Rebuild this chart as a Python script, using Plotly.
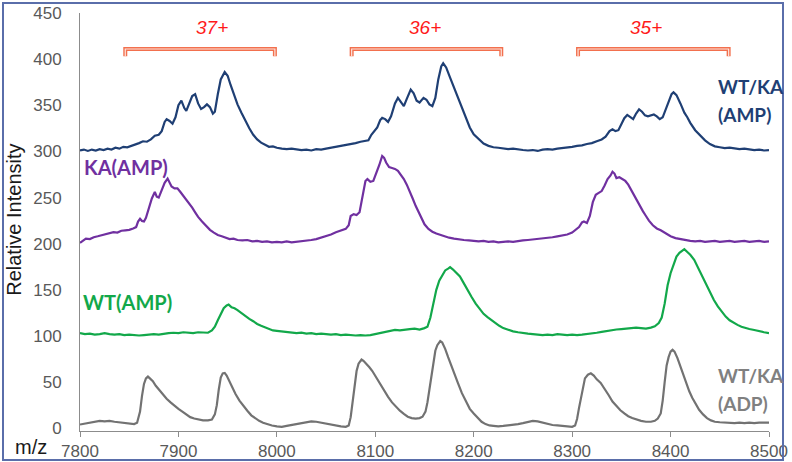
import plotly.graph_objects as go

# ---------------- data ----------------
wtka_amp_mz = [7800, 7804, 7808, 7812, 7816, 7820, 7824, 7828, 7832, 7836, 7840, 7844, 7848, 7852, 7856, 7860, 7864, 7868, 7872, 7876, 7880, 7883, 7886, 7888, 7891, 7894, 7897, 7900, 7903, 7906, 7908, 7911, 7914, 7917, 7920, 7923, 7926, 7929, 7932, 7935, 7937, 7940, 7943, 7947, 7950, 7953, 7956, 7960, 7964, 7968, 7972, 7976, 7980, 7984, 7988, 7992, 7996, 8000, 8005, 8010, 8015, 8020, 8025, 8030, 8035, 8040, 8045, 8050, 8055, 8060, 8065, 8070, 8075, 8080, 8085, 8090, 8093, 8096, 8099, 8102, 8105, 8107, 8110, 8113, 8116, 8120, 8123, 8126, 8129, 8132, 8136, 8139, 8142, 8145, 8149, 8152, 8155, 8158, 8161, 8164, 8167, 8169, 8172, 8176, 8180, 8184, 8188, 8192, 8196, 8200, 8205, 8210, 8215, 8220, 8225, 8230, 8235, 8240, 8245, 8250, 8255, 8260, 8265, 8270, 8275, 8280, 8285, 8290, 8295, 8300, 8305, 8310, 8315, 8320, 8325, 8330, 8334, 8338, 8341, 8344, 8347, 8350, 8353, 8356, 8359, 8362, 8365, 8368, 8371, 8374, 8377, 8380, 8383, 8386, 8389, 8392, 8395, 8398, 8401, 8403, 8406, 8410, 8414, 8417, 8420, 8425, 8430, 8435, 8440, 8445, 8450, 8455, 8460, 8465, 8470, 8475, 8480, 8485, 8490, 8495, 8500]
wtka_amp_int = [301, 302, 300.5, 302, 301, 302.5, 301.5, 303, 302, 304, 303, 305, 304.5, 306, 307, 309, 311, 310.5, 313, 317, 318, 322, 332, 335, 333, 330, 337, 350, 355, 347, 344, 352, 360, 362, 352, 346, 348, 351, 348, 341, 343, 362, 378, 386, 382, 372, 362, 351, 342, 333, 325, 318, 313, 309.5, 307, 305, 305.5, 304, 303, 302.5, 303, 302, 301.5, 302, 301, 302.5, 302, 303, 304, 304.5, 306, 307, 307.5, 309, 310.5, 311, 312, 318, 322, 326, 334, 336.5, 335, 332, 338, 352, 358, 354, 349, 357, 367, 363, 355, 353, 358, 356, 351, 349, 358, 378, 392, 395.5, 391, 380, 369, 357, 346, 335, 326, 318.5, 313, 308.5, 306, 304.5, 304, 303, 302.5, 303, 302, 301.5, 301, 301.5, 300.5, 302, 302.5, 302, 303, 303.5, 304, 305, 306, 306.5, 308, 309, 311, 313, 316, 322, 324, 322, 323, 329, 336, 339.5, 337, 335, 341, 345.5, 343, 339, 338, 339, 340, 338, 335, 337, 345, 355, 362, 364, 361, 352, 342, 337, 331, 323, 317, 312, 308, 305.5, 304.5, 303.5, 304, 303, 302.5, 303, 302, 301.5, 302, 301, 301.5]

ka_amp_mz = [7800, 7803, 7806, 7810, 7814, 7818, 7822, 7826, 7830, 7834, 7838, 7842, 7846, 7850, 7854, 7857, 7859, 7861, 7863, 7865, 7867, 7870, 7873, 7876, 7878, 7880, 7883, 7886, 7889, 7891, 7893, 7896, 7899, 7902, 7905, 7908, 7911, 7914, 7917, 7920, 7924, 7928, 7932, 7936, 7940, 7944, 7948, 7952, 7956, 7960, 7965, 7970, 7975, 7980, 7985, 7990, 7995, 8000, 8005, 8010, 8015, 8020, 8025, 8030, 8035, 8040, 8045, 8050, 8055, 8060, 8065, 8070, 8073, 8075, 8078, 8081, 8084, 8087, 8090, 8092, 8095, 8098, 8101, 8104, 8107, 8109, 8111, 8114, 8117, 8120, 8123, 8126, 8129, 8132, 8135, 8138, 8141, 8144, 8147, 8150, 8154, 8158, 8162, 8166, 8170, 8175, 8180, 8185, 8190, 8195, 8200, 8205, 8210, 8215, 8220, 8225, 8230, 8235, 8240, 8245, 8250, 8255, 8260, 8265, 8270, 8275, 8280, 8285, 8290, 8295, 8300, 8304, 8307, 8310, 8312, 8315, 8318, 8321, 8324, 8327, 8330, 8333, 8336, 8339, 8341, 8343, 8345, 8348, 8351, 8354, 8357, 8360, 8363, 8366, 8369, 8372, 8375, 8378, 8382, 8386, 8390, 8395, 8400, 8405, 8410, 8415, 8420, 8425, 8430, 8435, 8440, 8445, 8450, 8455, 8460, 8465, 8470, 8475, 8480, 8485, 8490, 8495, 8500]
ka_amp_int = [201, 203, 205.5, 205, 207, 208, 209, 210.5, 211, 212.5, 212, 214, 214.5, 215, 216.5, 218, 224, 227, 224.5, 224, 228, 240, 249, 256, 251, 250, 258, 266, 270.5, 267, 262, 260, 260, 256, 252, 248, 243, 239, 234, 229, 224, 219, 215, 212, 209.5, 208, 206.5, 205, 205.5, 204, 203.5, 204, 202.5, 203, 202, 202.5, 201.5, 202, 201.5, 202.5, 201.5, 202, 202.5, 203, 204, 205, 206.5, 208, 210, 212.5, 214, 216, 220, 230, 232, 231, 234, 250, 268, 270, 267, 268, 276, 285, 295, 293, 288, 283, 282, 281, 279, 275, 270, 264, 257, 249, 241, 234, 227, 221, 216, 213, 211, 209.5, 208, 206.5, 205.5, 204.5, 204, 203.5, 203, 202.5, 203, 202, 202.5, 201.5, 202, 202.5, 202, 203, 203.5, 204, 204.5, 205, 205.5, 206.5, 207, 208, 209, 210, 212, 215, 218, 223, 224, 222.5, 230, 245, 253, 255, 257, 263, 270, 274, 278, 276, 271, 272, 270, 268, 264, 258, 252, 246, 240, 235, 230, 225, 220, 216.5, 214.5, 211, 208, 206, 205, 203.5, 203, 202.5, 203, 202, 202.5, 203, 202, 202.5, 203, 202, 202.5, 203, 202, 202.5, 203, 202, 202.5]

wt_amp_mz = [7800, 7805, 7810, 7815, 7820, 7825, 7830, 7835, 7840, 7845, 7850, 7855, 7860, 7865, 7870, 7875, 7880, 7885, 7890, 7895, 7900, 7905, 7910, 7915, 7920, 7925, 7930, 7934, 7937, 7940, 7943, 7946, 7949, 7951, 7954, 7957, 7960, 7964, 7968, 7972, 7976, 7980, 7984, 7988, 7992, 7996, 8000, 8005, 8010, 8015, 8020, 8025, 8030, 8035, 8040, 8045, 8050, 8055, 8060, 8065, 8070, 8075, 8080, 8085, 8090, 8095, 8100, 8105, 8110, 8115, 8120, 8125, 8130, 8135, 8140, 8145, 8150, 8153, 8156, 8159, 8162, 8165, 8168, 8171, 8174, 8176, 8179, 8182, 8186, 8190, 8194, 8198, 8202, 8206, 8210, 8214, 8218, 8222, 8226, 8230, 8235, 8240, 8245, 8250, 8255, 8260, 8265, 8270, 8275, 8280, 8285, 8290, 8295, 8300, 8305, 8310, 8315, 8320, 8325, 8330, 8335, 8340, 8345, 8350, 8355, 8360, 8365, 8370, 8375, 8380, 8384, 8388, 8391, 8394, 8397, 8400, 8403, 8406, 8409, 8412, 8414, 8417, 8420, 8424, 8428, 8432, 8436, 8440, 8444, 8448, 8452, 8456, 8460, 8464, 8468, 8472, 8476, 8480, 8485, 8490, 8495, 8500]
wt_amp_int = [103, 102, 102.5, 101.5, 102, 103, 102, 101.5, 102, 101, 101.5, 101, 100.5, 101, 101.5, 102, 101.5, 102.5, 103, 103.5, 103, 104, 103.5, 103, 104, 103.5, 103.5, 106, 110, 117, 124, 130, 133, 134, 131, 130, 128, 125, 121, 118.5, 116, 113, 111, 109.5, 107.5, 106, 105.5, 105, 104.5, 103.5, 103, 103.5, 102.5, 103, 102, 102.5, 102, 101.5, 102, 101, 101.5, 101, 100.5, 101, 100.5, 101, 102, 103, 104, 105, 106.5, 106, 107, 107.5, 108, 107, 108.5, 110, 120, 135, 150, 160, 166, 171, 173, 174.5, 172, 169, 164.5, 157, 149, 142, 135, 129, 124, 120.5, 117, 114, 111, 108.5, 106.5, 105, 104, 103, 102.5, 102, 101.5, 101, 101.5, 101, 102, 101.5, 101, 101.5, 101, 101.5, 102, 102.5, 103.5, 104.5, 105.5, 106, 107, 107.5, 108, 108.5, 109, 108.5, 108, 109, 110.5, 114, 120, 135, 155, 168, 178, 186, 190, 193, 194, 191, 188, 182.5, 174, 165, 156, 147, 139, 132, 126.5, 121, 117, 114, 112, 110, 108.5, 107.5, 106.5, 105, 104, 103]

wtka_adp_mz = [7800, 7805, 7810, 7815, 7820, 7825, 7830, 7835, 7840, 7845, 7850, 7855, 7858, 7861, 7863, 7865, 7867, 7869, 7871, 7874, 7877, 7880, 7884, 7888, 7892, 7896, 7900, 7904, 7908, 7912, 7916, 7920, 7925, 7930, 7934, 7937, 7939, 7941, 7943, 7945, 7947, 7949, 7952, 7955, 7958, 7962, 7966, 7970, 7974, 7978, 7982, 7986, 7990, 7995, 8000, 8005, 8010, 8015, 8020, 8025, 8030, 8035, 8040, 8045, 8050, 8055, 8060, 8065, 8070, 8073, 8075, 8077, 8079, 8081, 8083, 8086, 8088, 8091, 8094, 8097, 8101, 8105, 8109, 8113, 8117, 8121, 8125, 8129, 8133, 8137, 8141, 8145, 8148, 8151, 8153, 8155, 8157, 8159, 8161, 8163, 8166, 8168, 8171, 8174, 8177, 8180, 8184, 8188, 8192, 8196, 8200, 8204, 8208, 8212, 8216, 8220, 8225, 8230, 8235, 8240, 8245, 8250, 8255, 8260, 8265, 8270, 8275, 8280, 8285, 8290, 8295, 8300, 8303, 8305, 8307, 8309, 8311, 8313, 8316, 8319, 8322, 8325, 8329, 8333, 8337, 8341, 8345, 8349, 8353, 8357, 8361, 8365, 8370, 8375, 8380, 8384, 8387, 8390, 8392, 8394, 8396, 8398, 8400, 8402, 8404, 8407, 8410, 8413, 8416, 8419, 8422, 8425, 8429, 8433, 8437, 8441, 8445, 8450, 8455, 8460, 8465, 8470, 8475, 8480, 8485, 8490, 8495, 8500]
wtka_adp_int = [4, 5, 6.5, 7.5, 8, 7.5, 8, 7, 6.5, 5.5, 5, 4.5, 6, 18, 35, 48, 54, 56, 54, 51, 46, 42, 37, 32, 28, 24, 21, 18, 14.5, 12, 10.5, 9.5, 8.5, 8.5, 9.5, 15, 25, 42, 55, 59.5, 60, 57, 50, 43, 37, 30, 24, 19, 14, 10.5, 8, 6, 4.5, 3, 2, 1.5, 2.5, 3.5, 5, 6, 7, 7.5, 7, 6, 4.5, 3.5, 2.5, 2, 1.5, 3, 12, 28, 48, 62, 70, 74.5, 73, 70, 66, 62, 55, 47, 40, 34, 28, 23, 19, 15.5, 12.5, 11, 10.5, 11, 12.5, 18, 28, 42, 58, 72, 84, 90, 94.5, 93, 86, 77, 68, 59, 49, 38, 29, 21, 16, 11, 7, 4.5, 3, 2.5, 2, 2.5, 3, 3.5, 4.5, 5.5, 7, 8, 7.5, 6, 5, 3.5, 3, 2.5, 2, 1.5, 3, 10, 22, 34, 46, 54, 58, 59.5, 57, 53, 49, 43, 36, 29, 24, 19.5, 16, 13, 11, 9.5, 8, 7, 7, 8, 10.5, 16, 30, 50, 68, 77, 83, 85, 83, 76, 67, 57, 48, 40, 33, 27, 20, 15, 11, 8.5, 7, 6.5, 6, 6, 5.5, 6, 5.5, 6, 5.5, 6, 6, 6]

x_ticks = [7800, 7900, 8000, 8100, 8200, 8300, 8400, 8500]
y_ticks = [0, 50, 100, 150, 200, 250, 300, 350, 400, 450]

charge_labels = ["37+", "36+", "35+"]
charge_centers = [7934, 8150, 8375]
bracket_starts = [7846, 8076, 8306]
bracket_ends = [7998, 8228, 8459]

series_names = ["WT/KA (AMP)", "KA(AMP)", "WT(AMP)", "WT/KA (ADP)"]
series_colors = ["#1f3f74", "#7030a0", "#12a84a", "#727272"]

# ---------------- figure ----------------
fig = go.Figure()
for mz, inten, name, col in [
    (wtka_adp_mz, wtka_adp_int, series_names[3], series_colors[3]),
    (wt_amp_mz, wt_amp_int, series_names[2], series_colors[2]),
    (ka_amp_mz, ka_amp_int, series_names[1], series_colors[1]),
    (wtka_amp_mz, wtka_amp_int, series_names[0], series_colors[0]),
]:
    fig.add_trace(go.Scatter(x=mz, y=inten, mode="lines", name=name,
                             line=dict(color=col, width=2.2), showlegend=False))

tick_font = dict(family="Liberation Sans, Arial, sans-serif", size=17, color="#595959")

fig.update_layout(
    width=792, height=462,
    margin=dict(l=80, r=23, t=13, b=31, autoexpand=False),
    paper_bgcolor="white", plot_bgcolor="white",
    showlegend=False,
    xaxis=dict(range=[7800, 8500], tickvals=x_ticks, ticktext=[str(v) for v in x_ticks],
               showgrid=False, zeroline=False, showline=True, linecolor="#8c8c8c", linewidth=1,
               ticks="outside", ticklen=5, tickcolor="#8c8c8c", tickfont=tick_font,
               automargin=False),
    yaxis=dict(range=[-3, 450], tickvals=y_ticks, ticktext=[str(v) for v in y_ticks],
               showgrid=False, zeroline=False, showline=True, linecolor="#8c8c8c", linewidth=1,
               ticks="", ticklabelstandoff=14, tickfont=tick_font, automargin=False),
)

# axis titles
fig.add_annotation(text="Relative Intensity", xref="paper", yref="paper",
                   x=-0.096, y=0.505, textangle=-90, showarrow=False,
                   xanchor="center", yanchor="middle",
                   font=dict(family="Liberation Sans, Arial, sans-serif", size=20, color="#1a1a1a"))
fig.add_annotation(text="m/z", xref="paper", yref="paper",
                   x=-0.0704, y=-0.039, showarrow=False, xanchor="center", yanchor="middle",
                   font=dict(family="Liberation Sans, Arial, sans-serif", size=20, color="#1a1a1a"))

# charge-state brackets
for lab, cx, x0, x1 in zip(charge_labels, charge_centers, bracket_starts, bracket_ends):
    path = f"M {x0},403 L {x0},411 L {x1},411 L {x1},403"
    fig.add_shape(type="path", path=path, xref="x", yref="y",
                  line=dict(color="#f2704e", width=4))
    fig.add_shape(type="path", path=path, xref="x", yref="y",
                  line=dict(color="#fde3db", width=1.2))
    fig.add_annotation(text=f"<i>{lab}</i>", x=cx, y=434, xref="x", yref="y", showarrow=False,
                       font=dict(family="Liberation Sans, Arial, sans-serif", size=19, color="#ff1a1a"))

# series labels
lab_font = "Lato, Open Sans, sans-serif"
label_specs = [
    ("WT/KA", 716, 370.5, 19, series_colors[0]),
    ("(AMP)", 716, 340.0, 19, series_colors[0]),
    ("KA(AMP)", 82, 283.0, 20, series_colors[1]),
    ("WT(AMP)", 81, 136.5, 20, series_colors[2]),
    ("WT/KA", 716, 57.5, 19, "#808080"),
    ("(ADP)", 716, 27.0, 19, "#808080"),
]
for txt, px, yv, fs, col in label_specs:
    fig.add_annotation(text=f"<b>{txt}</b>", xref="paper", yref="y", x=(px - 80) / 689, y=yv,
                       xanchor="left", yanchor="middle", align="left", showarrow=False,
                       font=dict(family=lab_font, size=fs, color=col))

# outer frame
fig.add_shape(type="rect", xref="paper", yref="paper",
              x0=(3 - 80) / 689, x1=(783 - 80) / 689, y0=(431 - 460) / 418, y1=(431 - 3) / 418,
              line=dict(color="#5a6eaa", width=2), fillcolor="rgba(0,0,0,0)", layer="above")

fig.write_html("out.html", config={"displayModeBar": False},
               post_script="document.body.style.margin='0px';document.body.style.overflow='hidden';")
